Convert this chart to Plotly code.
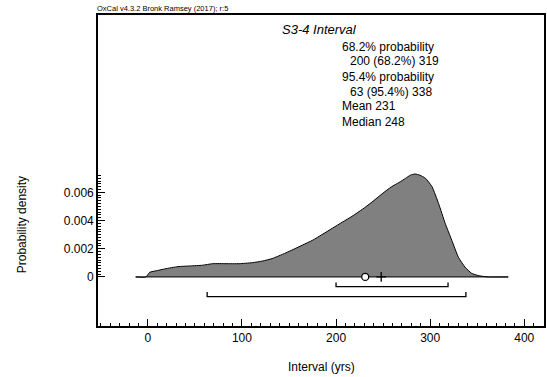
import numpy as np
import plotly.graph_objects as go

# Data
years = [-13, -2, 2, 10, 18, 32, 45, 58, 69, 83, 97, 111, 122, 132, 143, 153, 164,
         175, 185, 196, 207, 217, 228, 238, 249, 259, 267, 274, 279, 284, 289, 295,
         302, 309, 316, 323, 330, 337, 344, 350, 355, 362, 383]
density = [0, 0, 0.00033, 0.00045, 0.00057, 0.00073, 0.00078, 0.00083, 0.00094, 0.00094,
           0.00094, 0.00101, 0.00113, 0.0013, 0.0016, 0.0019, 0.00225, 0.0026, 0.003,
           0.00345, 0.0039, 0.0043, 0.0048, 0.0053, 0.0059, 0.0064, 0.0067, 0.0070,
           0.00722, 0.0073, 0.00722, 0.0070, 0.0064, 0.0052, 0.0038, 0.0026, 0.0014,
           0.0007, 0.00026, 0.00012, 0.00005, 0, 0]

range_68 = [200, 319]
range_95 = [63, 338]
mean_val = 231
median_val = 248

x_ticks = [0, 100, 200, 300, 400]
y_ticks = [0, 0.002, 0.004, 0.006]
y_ticktext = ["0", "0.002", "0.004", "0.006"]

title_text = "S3-4 Interval"
info_lines = ["68.2% probability", "  200 (68.2%) 319", "95.4% probability",
              "  63 (95.4%) 338", "Mean 231", "Median 248"]

FONT = "Arial, Liberation Sans, sans-serif"

fig = go.Figure()
fig.add_trace(go.Scatter(x=years, y=density, mode="lines", fill="tozeroy",
                         fillcolor="#808080", line=dict(color="black", width=1, shape="spline", smoothing=0.5),
                         hoverinfo="skip", showlegend=False))
# baseline
fig.add_trace(go.Scatter(x=[years[0], years[-1]], y=[0, 0], mode="lines",
                         line=dict(color="black", width=1), showlegend=False))

# brackets
def bracket(rng, ylow, yhigh):
    fig.add_trace(go.Scatter(x=[rng[0], rng[0], rng[1], rng[1]], y=[yhigh, ylow, ylow, yhigh],
                             mode="lines", line=dict(color="black", width=1.3), showlegend=False))

bracket(range_68, -0.00069, -0.0004)
bracket(range_95, -0.00140, -0.00106)

fig.add_trace(go.Scatter(x=[median_val], y=[0], mode="markers",
                         marker=dict(symbol="cross-thin-open", size=7, color="black",
                                     line=dict(color="black", width=1.3)),
                         showlegend=False))
fig.add_trace(go.Scatter(x=[mean_val], y=[0], mode="markers",
                         marker=dict(symbol="circle", size=7, color="white", line=dict(color="black", width=1.3)),
                         showlegend=False))

annotations = []
annotations.append(dict(text="OxCal v4.3.2 Bronk Ramsey (2017); r:5", xref="paper", yref="paper",
                        x=-0.007, y=1.0, xanchor="left", yanchor="bottom", showarrow=False,
                        font=dict(family=FONT, size=7.5, color="black")))
annotations.append(dict(text="<i>" + title_text + "</i>", xref="paper", yref="paper",
                        x=(281 - 98) / 448, y=(326 - 29) / 311, xanchor="left", yanchor="middle", showarrow=False,
                        font=dict(family=FONT, size=13, color="black")))
line_px = [46.5, 61.5, 76.5, 91.5, 106.5, 121.5]
for txt, py in zip(info_lines, line_px):
    indent = txt.startswith("  ")
    annotations.append(dict(text=txt.strip(), xref="paper", yref="paper",
                            x=(349 - 98) / 448 if indent else (341 - 98) / 448, y=(326 - py) / 311,
                            xanchor="left", yanchor="middle", showarrow=False,
                            font=dict(family=FONT, size=12, color="black")))
annotations.append(dict(text="Probability density", xref="paper", yref="paper",
                        x=(22 - 98) / 448, y=0.325, textangle=-90, xanchor="center", yanchor="middle",
                        showarrow=False, font=dict(family=FONT, size=12, color="black")))
annotations.append(dict(text="Interval (yrs)", xref="paper", yref="paper",
                        x=0.502, y=-0.132, xanchor="center", yanchor="middle",
                        showarrow=False, font=dict(family=FONT, size=12, color="black")))

fig.update_layout(
    width=547, height=377,
    margin=dict(l=98, r=1, t=15, b=51),
    paper_bgcolor="white", plot_bgcolor="white",
    font=dict(family=FONT, size=12, color="black"),
    annotations=annotations,
    showlegend=False,
    xaxis=dict(range=[-53, 421], tickvals=x_ticks, ticks="inside", ticklen=7, tickwidth=1,
               tickcolor="black", showline=True, linecolor="black", linewidth=1.6, mirror=True,
               showgrid=False, zeroline=False, tickfont=dict(size=12),
               minor=dict(tickmode="linear", tick0=0, dtick=10, ticks="inside", ticklen=3,
                          tickcolor="black", tickwidth=1, showgrid=False)),
    yaxis=dict(range=[-0.00348, 0.01858], tickvals=y_ticks, ticktext=y_ticktext, ticks="inside",
               ticklen=7, tickwidth=1, tickcolor="black", showline=True, linecolor="black",
               linewidth=1.6, mirror=True, showgrid=False, zeroline=False, tickfont=dict(size=12),
               minor=dict(tickvals=list(np.round(np.arange(0, 0.00721, 0.0002), 6)), ticks="inside",
                          ticklen=3, tickcolor="black", tickwidth=1, showgrid=False)),
)

fig.write_html("out.html")
